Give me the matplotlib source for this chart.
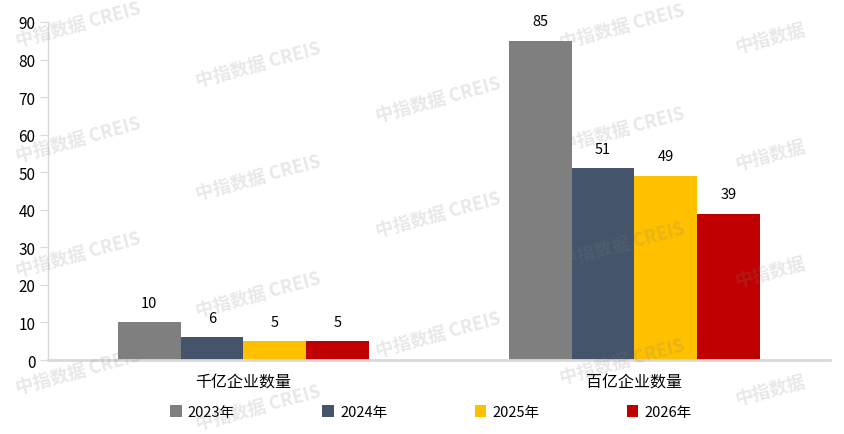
import numpy as np
import matplotlib
matplotlib.use("Agg")
import matplotlib.pyplot as plt

plt.rcParams['font.family'] = ['Noto Sans CJK SC', 'DejaVu Sans']

# data
categories = ['千亿企业数量', '百亿企业数量']
series_names = ['2023年', '2024年', '2025年', '2026年']
v2023 = [10, 85]
v2024 = [6, 51]
v2025 = [5, 49]
v2026 = [5, 39]
colors = ['#7f7f7f', '#44546a', '#ffc000', '#c00000']

fig = plt.figure(figsize=(8.45, 4.35), dpi=100)
ax = fig.add_axes([48 / 845, 1 - 361 / 435, (830 - 48) / 845, (361 - 23) / 435])

x = np.arange(len(categories))
w = 0.161
handles = []
for i, (name, vals) in enumerate(zip(series_names, [v2023, v2024, v2025, v2026])):
    bars = ax.bar(x + (i - 1.5) * w, vals, w, color=colors[i], label=name, zorder=2)
    handles.append(bars)
    for b, v in zip(bars, vals):
        ax.annotate(str(v), (b.get_x() + b.get_width() / 2, v), xytext=(0, 9),
                    textcoords='offset points', ha='center', va='bottom',
                    fontsize=10.5, color='#000000')

ax.set_xlim(-0.5, 1.5)
ax.set_ylim(0, 90)
ax.set_yticks(range(0, 91, 10))
ax.set_xticks(x)
ax.set_xticklabels(categories, fontsize=11.5)
ax.tick_params(axis='x', length=0, pad=10)
ax.tick_params(axis='y', length=6, color='#d9d9d9', labelsize=11, pad=3)
for s in ['top', 'right']:
    ax.spines[s].set_visible(False)
ax.spines['left'].set_color('#d9d9d9')
ax.spines['left'].set_linewidth(1)
ax.spines['bottom'].set_color('#d9d9d9')
ax.spines['bottom'].set_linewidth(2)

fig.legend(handles=handles, labels=series_names, loc='center', ncol=4,
           bbox_to_anchor=(0.51, 1 - 413 / 435), frameon=False, fontsize=10.5,
           handlelength=0.8, handleheight=0.8, handletextpad=0.4,
           columnspacing=6.0)

# watermarks
wm_full = [(78, 25), (258, 65), (438, 100), (622, 27),
           (78, 140), (258, 178), (438, 215), (622, 130),
           (78, 255), (258, 295), (438, 335), (622, 245),
           (78, 372), (258, 408), (622, 362)]
wm_short = [(770, 38), (770, 155), (770, 272), (770, 390)]
for px, py in wm_full:
    fig.text(px / 845, 1 - py / 435, '中指数据 CREIS', rotation=15, fontsize=13,
             fontweight='bold', color='#808080', alpha=0.18,
             ha='center', va='center', zorder=10)
for px, py in wm_short:
    fig.text(px / 845, 1 - py / 435, '中指数据', rotation=15, fontsize=13,
             fontweight='bold', color='#808080', alpha=0.18,
             ha='center', va='center', zorder=10)

fig.savefig('out.png', dpi=100)
